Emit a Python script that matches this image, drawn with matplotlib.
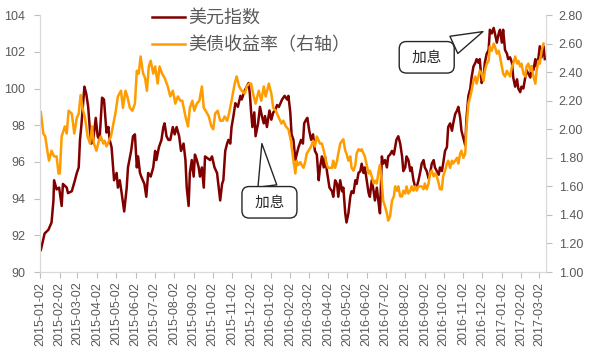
# US dollar index vs US 10y treasury yield (right axis), 2015-01 .. 2017-03

import matplotlib
matplotlib.use("Agg")
import matplotlib.pyplot as plt
import matplotlib.dates as mdates
from matplotlib.ticker import FormatStrFormatter, MultipleLocator
import pandas as pd

plt.rcParams['font.family'] = ['Liberation Sans', 'Noto Sans CJK SC']

start = pd.Timestamp('2015-01-02')

# (days since 2015-01-02, value)
usd_index = [
    (1, 91.2), (7, 92.1), (13, 92.3), (18, 92.7), (21, 93.9), (22, 95.0), (26, 94.5), (30, 94.6),
    (34, 93.6), (36, 94.8), (42, 94.6), (44, 94.3), (50, 94.4), (55, 95.0), (58, 95.4), (61, 95.7),
    (63, 97.2), (65, 97.9), (70, 100.1), (73, 99.7), (76, 99.0), (79, 97.6), (81, 97.0), (84, 97.2),
    (88, 98.4), (91, 97.4), (94, 97.2), (98, 99.5), (101, 99.4), (105, 97.6), (108, 97.9), (110, 97.2),
    (113, 96.8), (117, 95.0), (121, 95.4), (123, 94.6), (126, 95.0), (129, 94.3), (133, 93.3), (137, 94.6),
    (139, 95.7), (144, 96.6), (147, 97.4), (150, 97.5), (153, 95.7), (155, 96.3), (158, 95.4), (160, 95.2),
    (165, 94.8), (168, 94.1), (171, 95.4), (175, 95.2), (179, 95.7), (182, 96.6), (184, 96.1), (188, 96.8),
    (192, 97.2), (195, 97.9), (197, 98.1), (200, 97.4), (203, 97.2),
    (206, 97.2), (210, 97.9), (213, 97.5), (216, 97.9), (220, 97.4), (223, 96.6), (227, 97.0), (230, 96.1),
    (232, 94.6), (235, 93.6), (237, 95.4), (240, 96.1), (243, 95.2), (245, 96.4), (248, 96.1), (251, 95.7),
    (253, 95.2), (256, 95.7), (259, 94.6), (261, 96.3), (265, 96.2), (269, 96.1), (272, 96.3), (276, 95.7),
    (280, 95.4), (282, 94.8), (285, 93.9), (288, 94.8), (290, 95.0), (293, 96.6), (296, 97.0), (298, 97.2),
    (301, 97.0), (303, 97.9), (306, 98.5), (309, 99.2), (313, 99.0), (317, 99.6), (319, 99.4), (324, 99.9),
    (327, 100.1), (330, 100.3), (332, 99.7), (334, 98.7), (336, 97.9), (339, 98.7), (341, 97.4), (345, 98.1),
    (348, 99.0), (351, 98.5), (354, 98.1), (356, 98.5), (359, 97.9), (363, 98.8), (366, 98.3), (369, 98.7),
    (372, 98.8), (375, 99.1), (378, 99.0), (383, 99.4), (387, 99.6), (391, 99.4), (393, 99.6), (396, 98.7),
    (398, 97.5), (401, 97.2),
    (404, 96.1), (406, 96.4), (409, 96.8), (413, 97.2), (416, 97.0), (418, 98.1), (421, 98.3), (423, 98.4),
    (426, 97.7), (429, 97.2), (432, 97.5), (435, 96.6), (438, 96.4), (441, 95.0), (443, 95.7), (446, 96.3),
    (449, 95.7), (451, 96.3), (454, 95.5), (458, 94.6), (462, 94.4), (464, 94.1), (467, 95.0), (470, 94.8),
    (472, 94.1), (475, 95.0), (478, 94.4), (480, 94.6), (483, 93.2), (485, 92.7), (488, 93.2), (491, 94.1),
    (493, 94.4), (496, 94.3), (499, 95.0), (501, 94.8), (504, 95.4), (507, 95.5), (509, 95.9), (512, 95.4),
    (514, 95.7), (517, 95.0), (520, 94.3), (522, 94.1), (525, 95.0), (528, 94.4), (530, 93.9), (533, 94.6),
    (536, 93.7), (538, 93.2), (541, 96.3), (543, 95.9), (546, 96.1), (549, 95.7), (551, 96.3), (554, 96.4),
    (557, 96.6), (560, 96.4), (564, 97.2), (567, 97.4), (570, 97.0), (573, 96.3), (575, 95.5), (578, 95.7),
    (580, 96.3), (583, 96.1), (586, 95.5), (588, 95.7), (591, 95.0), (594, 94.6), (596, 94.6), (599, 95.0),
    (602, 95.5),
    (604, 95.9), (607, 96.1), (609, 95.7), (612, 95.5), (615, 95.1), (617, 95.3), (620, 95.9), (623, 96.1),
    (625, 95.7), (628, 95.5), (631, 95.3), (633, 95.7), (636, 95.5), (638, 95.9), (641, 96.6), (644, 96.8),
    (646, 97.9), (649, 98.1), (652, 97.7), (654, 98.1), (657, 98.6), (660, 98.8), (662, 99.0), (665, 98.4),
    (667, 97.7), (670, 97.3), (673, 96.9), (675, 98.4), (678, 99.6), (681, 100.0), (683, 100.6), (686, 101.2),
    (689, 101.4), (691, 101.6), (694, 101.4), (696, 101.6), (699, 100.3), (702, 100.6), (704, 101.4), (707, 101.9),
    (710, 102.1), (712, 103.2), (715, 103.0), (718, 103.3), (720, 103.0), (723, 102.5), (726, 103.0), (728, 103.2),
    (731, 102.5), (733, 103.2), (736, 102.1), (739, 101.9), (741, 101.6), (744, 101.7), (747, 101.4), (749, 100.6),
    (752, 100.1), (755, 100.5), (757, 100.0), (760, 99.8), (762, 100.1), (765, 100.0), (768, 100.6), (770, 101.0),
    (773, 100.8), (776, 100.6), (778, 101.2), (781, 101.0), (784, 101.6), (786, 101.2), (789, 101.7), (791, 102.3),
    (794, 101.7), (797, 102.3), (799, 101.6),
]

ust_yield = [
    (1, 2.12), (5, 1.97), (8, 1.95), (12, 1.83), (14, 1.78), (18, 1.85), (22, 1.81), (26, 1.81),
    (29, 1.69), (31, 1.69), (34, 1.95), (39, 2.02), (42, 1.97), (45, 2.13), (50, 2.11), (54, 1.97),
    (58, 2.08), (61, 2.11), (64, 2.24), (67, 2.15), (71, 2.08), (75, 1.95), (79, 1.90), (82, 2.02),
    (85, 1.90), (89, 1.85), (93, 1.92), (96, 1.95), (100, 1.90), (102, 1.92), (105, 1.88), (109, 1.92),
    (112, 1.95), (116, 2.04), (119, 2.11), (123, 2.23), (128, 2.27), (131, 2.15), (135, 2.27), (138, 2.23),
    (142, 2.15), (146, 2.13), (150, 2.18), (153, 2.41), (156, 2.39), (159, 2.51), (163, 2.39), (166, 2.36),
    (169, 2.27), (172, 2.44), (175, 2.48), (179, 2.39), (182, 2.44), (186, 2.32), (189, 2.44), (193, 2.39),
    (197, 2.36), (202, 2.30),
    (206, 2.23), (210, 2.27), (214, 2.18), (218, 2.23), (222, 2.20), (225, 2.20), (230, 2.09), (234, 2.02),
    (237, 2.15), (241, 2.20), (244, 2.13), (248, 2.18), (252, 2.20), (256, 2.30), (259, 2.15), (262, 2.13),
    (267, 2.09), (271, 2.02), (274, 2.00), (277, 2.11), (281, 2.13), (285, 2.06), (289, 2.06), (292, 2.09),
    (296, 2.06), (299, 2.11), (303, 2.20), (308, 2.32), (311, 2.37), (315, 2.30), (319, 2.27), (324, 2.25),
    (327, 2.30), (331, 2.32), (334, 2.32), (338, 2.23), (341, 2.18), (346, 2.27), (350, 2.20), (354, 2.30),
    (357, 2.23), (362, 2.32), (366, 2.25), (369, 2.15), (373, 2.13), (377, 2.09), (382, 2.04), (385, 2.06),
    (389, 2.02), (393, 2.00), (397, 1.92),
    (398, 1.88), (401, 1.78), (404, 1.69), (406, 1.78), (409, 1.75), (412, 1.77), (414, 1.75), (417, 1.73),
    (420, 1.78), (422, 1.83), (425, 1.85), (429, 1.88), (432, 1.92), (435, 1.88), (438, 1.95), (441, 1.92),
    (443, 1.90), (446, 1.90), (449, 1.85), (451, 1.81), (454, 1.75), (456, 1.73), (459, 1.73), (462, 1.73),
    (464, 1.78), (467, 1.73), (470, 1.78), (472, 1.83), (475, 1.90), (478, 1.92), (480, 1.93), (483, 1.85),
    (485, 1.83), (488, 1.78), (491, 1.81), (493, 1.73), (496, 1.71), (499, 1.75), (501, 1.83), (504, 1.86),
    (507, 1.85), (509, 1.86), (512, 1.83), (514, 1.81), (517, 1.75), (520, 1.69), (522, 1.71), (525, 1.67),
    (528, 1.62), (530, 1.64), (533, 1.62), (536, 1.71), (538, 1.75), (541, 1.62), (543, 1.50), (546, 1.46),
    (549, 1.41), (551, 1.36), (554, 1.39), (557, 1.50), (560, 1.53), (562, 1.60), (565, 1.57), (567, 1.60),
    (570, 1.53), (573, 1.53), (575, 1.57), (578, 1.55), (580, 1.60), (583, 1.55), (586, 1.57), (588, 1.60),
    (591, 1.57), (594, 1.60), (596, 1.57), (599, 1.60), (602, 1.60),
    (604, 1.60), (607, 1.58), (609, 1.62), (612, 1.58), (615, 1.62), (617, 1.69), (620, 1.71), (623, 1.67),
    (625, 1.69), (628, 1.67), (631, 1.62), (633, 1.58), (636, 1.58), (638, 1.67), (641, 1.71), (644, 1.76),
    (646, 1.78), (649, 1.73), (652, 1.78), (654, 1.76), (657, 1.78), (660, 1.80), (662, 1.76), (665, 1.83),
    (667, 1.85), (670, 1.80), (673, 1.83), (675, 2.02), (678, 2.18), (681, 2.23), (683, 2.27), (686, 2.34),
    (689, 2.37), (691, 2.32), (694, 2.37), (696, 2.41), (699, 2.39), (702, 2.34), (704, 2.41), (707, 2.46),
    (710, 2.48), (712, 2.58), (715, 2.55), (718, 2.60), (720, 2.58), (723, 2.53), (726, 2.55), (728, 2.51),
    (731, 2.44), (733, 2.39), (736, 2.37), (739, 2.41), (741, 2.39), (744, 2.37), (747, 2.44), (749, 2.46),
    (752, 2.51), (755, 2.46), (757, 2.48), (760, 2.44), (762, 2.46), (765, 2.39), (768, 2.37), (770, 2.44),
    (773, 2.46), (776, 2.41), (778, 2.44), (781, 2.37), (784, 2.32), (786, 2.41), (789, 2.48), (791, 2.46),
    (794, 2.55), (797, 2.60),
]

labels = ['美元指数', '美债收益率（右轴）']
hikes = [('2015-12-19', 97.0, '2015-12-31', 93.8), ('2016-12-03', 103.1, '2016-09-05', 101.7)]


def to_series(points):
    days, vals = zip(*points)
    return start + pd.to_timedelta(list(days), unit='D'), list(vals)


usd_x, usd_y = to_series(usd_index)
ust_x, ust_y = to_series(ust_yield)

fig = plt.figure(figsize=(5.91, 3.51), dpi=100)
ax = fig.add_axes([0.068, 0.225, 0.856, 0.732])
ax2 = ax.twinx()

l1, = ax.plot(usd_x, usd_y, color='#800000', lw=1.8)
l2, = ax2.plot(ust_x, ust_y, color='#ff9c00', lw=1.8)

ax.set_ylim(90, 104)
ax.yaxis.set_major_locator(MultipleLocator(2))
ax2.set_ylim(1.0, 2.8)
ax2.yaxis.set_major_locator(MultipleLocator(0.2))
ax2.yaxis.set_major_formatter(FormatStrFormatter('%.2f'))

ax.set_xlim(start, start + pd.Timedelta(days=801))
ax.xaxis.set_major_locator(mdates.MonthLocator(bymonthday=2))
ax.xaxis.set_major_formatter(mdates.DateFormatter('%Y-%m-%d'))
for t in ax.get_xticklabels():
    t.set_rotation(90)

for a in (ax, ax2):
    a.spines['top'].set_visible(False)
    for s in ('left', 'right', 'bottom'):
        a.spines[s].set_color('#d9d9d9')
    a.tick_params(colors='#bfbfbf', labelcolor='#595959', labelsize=9, length=4)
ax.tick_params(axis='y', pad=7)
ax.tick_params(axis='x', pad=3)
ax2.tick_params(axis='y', pad=5)

fig.legend([l1, l2], labels, loc='upper left', bbox_to_anchor=(0.258, 0.972),
           frameon=False, fontsize=13, labelcolor='#595959', borderpad=0, borderaxespad=0,
           handlelength=1.8, handletextpad=0.2, labelspacing=0.55)

for tip_d, tip_v, box_d, box_v in hikes:
    tip = (mdates.date2num(pd.Timestamp(tip_d)), tip_v)
    box = (mdates.date2num(pd.Timestamp(box_d)), box_v)
    ax2.annotate(' 加息 ', xy=tip, xycoords=ax.transData,
                 xytext=box, textcoords=ax.transData,
                 ha='center', va='center', fontsize=10.5, color='#262626', zorder=10,
                 bbox=dict(boxstyle='round,pad=0.6,rounding_size=0.5', fc='white', ec='#262626', lw=1),
                 arrowprops=dict(arrowstyle='wedge,tail_width=1.3', fc='white', ec='#262626', lw=1,
                                 shrinkA=0, shrinkB=0))

fig.savefig('out.png', dpi=100)
